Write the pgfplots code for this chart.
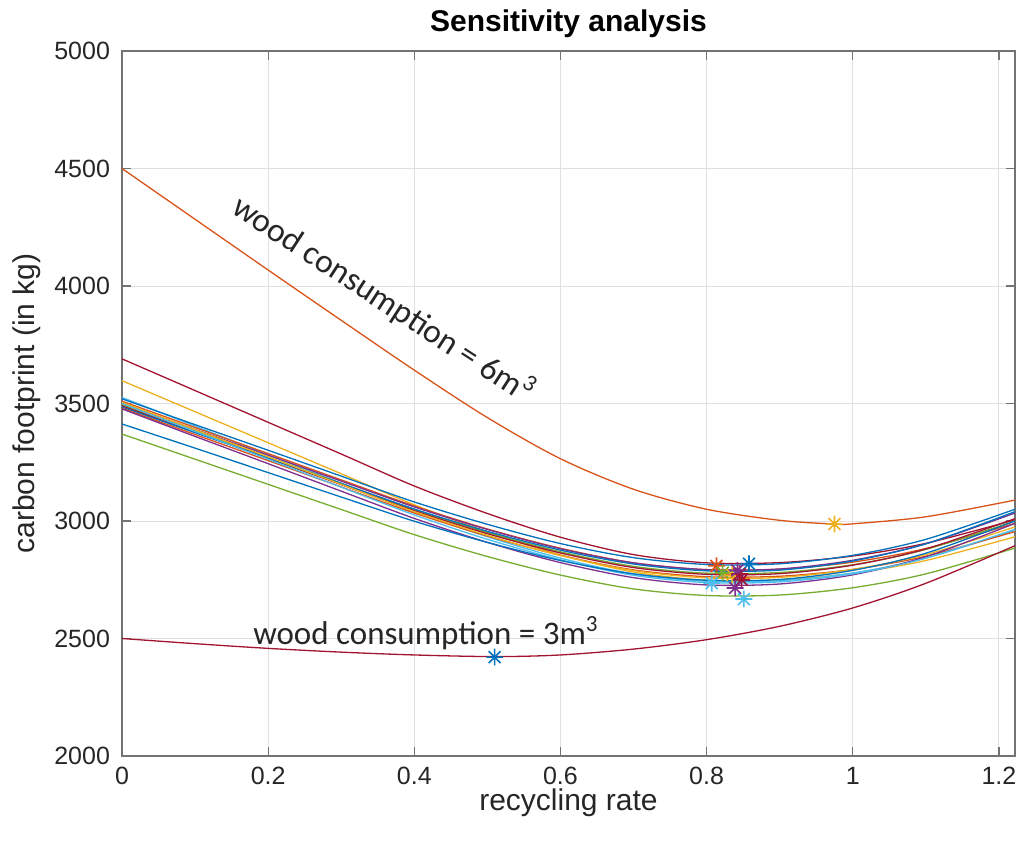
\documentclass[border=0pt]{standalone}
\usepackage{fontspec}
\setmainfont{Liberation Sans}
\newfontfamily\carlito{Carlito}
\usepackage{pgfplots}
\pgfplotsset{compat=1.18}
\definecolor{mblue}{RGB}{0,114,189}
\definecolor{morange}{RGB}{217,83,25}
\definecolor{myellow}{RGB}{237,177,32}
\definecolor{mpurple}{RGB}{126,47,142}
\definecolor{mgreen}{RGB}{119,172,48}
\definecolor{mcyan}{RGB}{77,190,238}
\definecolor{mred}{RGB}{162,20,47}
\pgfdeclareplotmark{mstar}{%
  \pgfpathmoveto{\pgfqpoint{-\pgfplotmarksize}{0pt}}\pgfpathlineto{\pgfqpoint{\pgfplotmarksize}{0pt}}%
  \pgfpathmoveto{\pgfqpoint{0pt}{-\pgfplotmarksize}}\pgfpathlineto{\pgfqpoint{0pt}{\pgfplotmarksize}}%
  \pgfpathmoveto{\pgfqpoint{-.707\pgfplotmarksize}{-.707\pgfplotmarksize}}\pgfpathlineto{\pgfqpoint{.707\pgfplotmarksize}{.707\pgfplotmarksize}}%
  \pgfpathmoveto{\pgfqpoint{-.707\pgfplotmarksize}{.707\pgfplotmarksize}}\pgfpathlineto{\pgfqpoint{.707\pgfplotmarksize}{-.707\pgfplotmarksize}}%
  \pgfusepathqstroke}
\begin{document}
\begin{tikzpicture}
\begin{axis}[
  scale only axis, width=446.5pt, height=352.5pt,
  xmin=0, xmax=1.222, ymin=2000, ymax=5000,
  xtick={0,0.2,0.4,0.6,0.8,1,1.2},
  xticklabels={0,0.2,0.4,0.6,0.8,1,1.2},
  ytick={2000,2500,3000,3500,4000,4500,5000},
  yticklabels={2000,2500,3000,3500,4000,4500,5000},
  grid=major, major grid style={color=black!12, line width=0.5pt},
  axis line style={color=black!55, line width=0.7pt},
  tick align=inside, major tick length=4.5pt,
  tick style={color=black!55, line width=0.6pt},
  ticklabel style={font=\fontsize{12.5}{14}\selectfont, color=black!85},
  xticklabel style={yshift=-2pt},
  yticklabel style={xshift=-2.5pt},
  xlabel={recycling rate}, ylabel={carbon footprint (in kg)},
  label style={font=\fontsize{15}{17}\selectfont, color=black!85},
  x label style={at={(axis description cs:0.5,-0.066)}, anchor=center},
  y label style={at={(axis description cs:-0.1064,0.5)}, anchor=center},
  title={Sensitivity analysis},
  title style={font=\bfseries\fontsize{15}{18}\selectfont, at={(axis description cs:0.5,1.0213)}, anchor=center},
  every axis plot/.append style={line width=0.65pt, smooth, mark=none},
]
% cluster curves
\addplot[mred] coordinates {(0,3690)(0.1,3555)(0.2,3420)(0.3,3285)(0.4,3149)(0.5,3032)(0.6,2931)(0.7,2857)(0.8,2822)(0.9,2823)(1.0,2851)(1.1,2905)(1.222,3005)};
\addplot[myellow] coordinates {(0,3597)(0.1,3465)(0.2,3333)(0.3,3201)(0.4,3069)(0.5,2954)(0.6,2856)(0.7,2783)(0.8,2748)(0.9,2750)(1.0,2778)(1.1,2832)(1.222,2933)};
\addplot[mcyan] coordinates {(0,3526)(0.1,3404)(0.2,3282)(0.3,3161)(0.4,3039)(0.5,2933)(0.6,2842)(0.7,2775)(0.8,2743)(0.9,2746)(1.0,2779)(1.1,2842)(1.222,2960)};
\addplot[mblue] coordinates {(0,3520)(0.1,3410)(0.2,3301)(0.3,3191)(0.4,3081)(0.5,2986)(0.6,2904)(0.7,2844)(0.8,2815)(0.9,2818)(1.0,2854)(1.1,2922)(1.222,3050)};
\addplot[morange] coordinates {(0,3510)(0.1,3398)(0.2,3287)(0.3,3175)(0.4,3064)(0.5,2966)(0.6,2884)(0.7,2822)(0.8,2793)(0.9,2795)(1.0,2825)(1.1,2883)(1.222,2990)};
\addplot[mpurple] coordinates {(0,3500)(0.1,3390)(0.2,3280)(0.3,3170)(0.4,3060)(0.5,2964)(0.6,2882)(0.7,2822)(0.8,2793)(0.9,2796)(1.0,2833)(1.1,2903)(1.222,3034)};
\addplot[mgreen] coordinates {(0,3495)(0.1,3383)(0.2,3272)(0.3,3160)(0.4,3049)(0.5,2951)(0.6,2869)(0.7,2807)(0.8,2778)(0.9,2781)(1.0,2814)(1.1,2879)(1.222,3000)};
\addplot[mred] coordinates {(0,3490)(0.1,3378)(0.2,3267)(0.3,3155)(0.4,3044)(0.5,2946)(0.6,2864)(0.7,2802)(0.8,2773)(0.9,2776)(1.0,2812)(1.1,2881)(1.222,3010)};
\addplot[mblue] coordinates {(0,3485)(0.1,3376)(0.2,3268)(0.3,3160)(0.4,3051)(0.5,2956)(0.6,2876)(0.7,2817)(0.8,2788)(0.9,2791)(1.0,2830)(1.1,2903)(1.222,3040)};
\addplot[morange] coordinates {(0,3480)(0.1,3368)(0.2,3257)(0.3,3145)(0.4,3034)(0.5,2936)(0.6,2854)(0.7,2792)(0.8,2763)(0.9,2765)(1.0,2794)(1.1,2850)(1.222,2955)};
\addplot[myellow] coordinates {(0,3505)(0.1,3389)(0.2,3273)(0.3,3156)(0.4,3040)(0.5,2939)(0.6,2853)(0.7,2789)(0.8,2758)(0.9,2760)(1.0,2794)(1.1,2857)(1.222,2975)};
\addplot[mpurple] coordinates {(0,3477)(0.1,3360)(0.2,3244)(0.3,3127)(0.4,3011)(0.5,2909)(0.6,2823)(0.7,2759)(0.8,2728)(0.9,2732)(1.0,2771)(1.1,2848)(1.222,2990)};
\addplot[mcyan] coordinates {(0,3500)(0.1,3381)(0.2,3263)(0.3,3144)(0.4,3026)(0.5,2922)(0.6,2835)(0.7,2769)(0.8,2738)(0.9,2741)(1.0,2775)(1.1,2842)(1.222,2965)};
\addplot[mblue] coordinates {(0,3413)(0.1,3310)(0.2,3206)(0.3,3102)(0.4,2999)(0.5,2909)(0.6,2832)(0.7,2775)(0.8,2748)(0.9,2751)(1.0,2790)(1.1,2863)(1.222,3000)};
\addplot[mgreen] coordinates {(0,3370)(0.1,3263)(0.2,3156)(0.3,3049)(0.4,2942)(0.5,2849)(0.6,2770)(0.7,2711)(0.8,2683)(0.9,2685)(1.0,2716)(1.1,2775)(1.222,2885)};
% wood consumption = 6 m3
\addplot[morange] coordinates {(0,4500)(0.1,4284)(0.2,4068)(0.3,3854)(0.4,3642)(0.5,3440)(0.6,3265)(0.7,3135)(0.8,3050)(0.9,3003)(0.975,2987)(1.0,2988)(1.1,3018)(1.222,3089)};
% wood consumption = 3 m3
\addplot[mred] coordinates {(0,2500)(0.1,2478)(0.2,2458)(0.3,2442)(0.4,2430)(0.51,2423)(0.6,2430)(0.7,2455)(0.8,2495)(0.9,2552)(1.0,2630)(1.1,2735)(1.222,2895)};
% minima
\addplot[only marks, mark=mstar, mark size=4.2pt, morange, line width=0.8pt] coordinates {(0.8135,2809)};
\addplot[only marks, mark=mstar, mark size=4.2pt, mblue, line width=0.8pt] coordinates {(0.858,2818)};
\addplot[only marks, mark=mstar, mark size=4.2pt, mgreen, line width=0.8pt] coordinates {(0.822,2780)};
\addplot[only marks, mark=mstar, mark size=4.2pt, mcyan, line width=0.8pt] coordinates {(0.807,2735)};
\addplot[only marks, mark=mstar, mark size=4.2pt, myellow, line width=0.8pt] coordinates {(0.835,2770)};
\addplot[only marks, mark=mstar, mark size=4.2pt, mred, line width=0.8pt] coordinates {(0.845,2775)};
\addplot[only marks, mark=mstar, mark size=4.2pt, mpurple, line width=0.8pt] coordinates {(0.842,2790)};
\addplot[only marks, mark=mstar, mark size=4.2pt, mred, line width=0.8pt] coordinates {(0.848,2750)};
\addplot[only marks, mark=mstar, mark size=4.2pt, mpurple, line width=0.8pt] coordinates {(0.839,2715)};
\addplot[only marks, mark=mstar, mark size=4.2pt, mcyan, line width=0.8pt] coordinates {(0.851,2668)};
\addplot[only marks, mark=mstar, mark size=4.2pt, myellow, line width=0.8pt] coordinates {(0.975,2987)};
\addplot[only marks, mark=mstar, mark size=4.2pt, mblue, line width=0.8pt] coordinates {(0.51,2421)};
% annotations
\node[rotate=-33, font=\carlito\fontsize{16.8}{18}\selectfont, color=black!85] at (axis cs:0.358,3945) {wood consumption = 6m\textsuperscript{3}};
\node[font=\carlito\fontsize{16.5}{18}\selectfont, color=black!85] at (axis cs:0.416,2523) {wood consumption = 3m\textsuperscript{3}};
\end{axis}
\pgfresetboundingbox
\path[use as bounding box] (-61pt,-43.5pt) rectangle (451pt,378pt);
\end{tikzpicture}
\end{document}
